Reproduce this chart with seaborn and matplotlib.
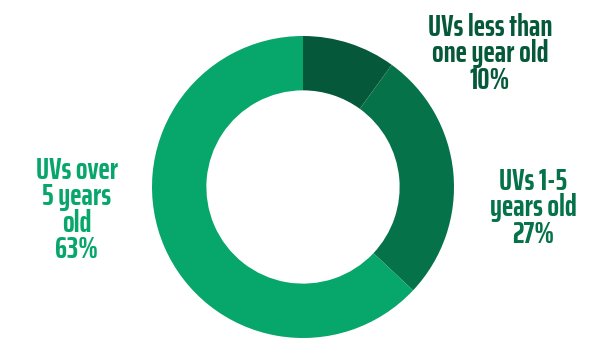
import matplotlib
matplotlib.use('Agg')
import matplotlib.pyplot as plt
import seaborn as sns

# data
labels = ['UVs less than\none year old', 'UVs 1-5\nyears old', 'UVs over\n5 years\nold']
shares = [10, 27, 63]
colors = ['#05593a', '#067249', '#07a66a']

sns.set_theme(style='white')
plt.rcParams['font.family'] = ['Saira ExtraCondensed', 'DejaVu Sans']

fig = plt.figure(figsize=(6.11, 3.44), dpi=100)
ax = fig.add_axes([0, 0, 1, 1])

# donut, centre in pixel coords
cx, cy, r = 303, 344 - 187, 151
ax.pie(shares, colors=colors, startangle=90, counterclock=False,
       center=(cx, cy), radius=r,
       wedgeprops=dict(width=r * 0.36, edgecolor='none'))
ax.set_xlim(0, 611)
ax.set_ylim(0, 344)
ax.set_aspect('equal')
ax.axis('off')

# labels (text, pos)
label_pos = [(490, 344 - 54), (533, 344 - 208), (77, 344 - 210)]
for lab, s, c, (x, y) in zip(labels, shares, colors, label_pos):
    ax.text(x, y, f'{lab}\n{s}%', ha='center', va='center', color=c,
            fontsize=22, fontweight=700, linespacing=0.88)

plt.savefig('out.png', dpi=100)
